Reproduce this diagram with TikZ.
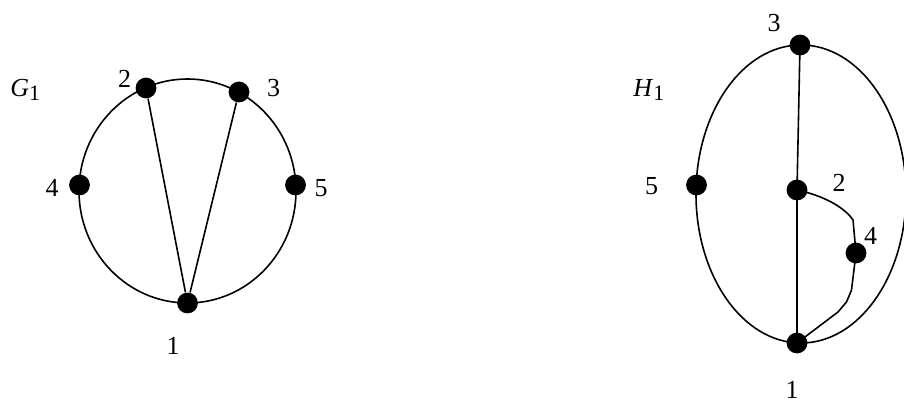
\documentclass[tikz,border=0pt]{standalone}
\usepackage{fontspec}
\setmainfont{Liberation Serif}
\begin{document}
\begin{tikzpicture}[x=0.5pt,y=-0.5pt,
  dot/.style={circle,fill=black,inner sep=0pt,minimum size=10.4pt},
  lbl/.style={anchor=base,inner sep=0pt,font=\fontsize{13}{15}\selectfont},
  edge/.style={line width=0.8pt}]
\useasboundingbox (0,0) rectangle (904,405);
\clip (0,0) rectangle (904,405);
% ---------- G1 ----------
\draw[edge] (187.5,191) ellipse [x radius=54.25pt, y radius=56pt];
\node[dot] (g1) at (187.5,303) {};
\node[dot] (g2) at (146,88) {};
\node[dot] (g3) at (239,92) {};
\node[dot] (g4) at (79.5,185) {};
\node[dot] (g5) at (295.5,185) {};
\draw[edge] (g2) -- (g1);
\draw[edge] (g3) -- (g1);
\node[lbl,anchor=base west] (gname) at (10,97) {\textit{G}\raisebox{-0.3ex}{\fontsize{11}{12}\selectfont 1}};
\node[lbl] (lg1) at (173,355) {1};
\node[lbl] (lg2) at (124.5,88) {2};
\node[lbl] (lg3) at (273.5,97) {3};
\node[lbl] (lg4) at (52,197) {4};
\node[lbl] (lg5) at (321,197) {5};
% ---------- H1 ----------
\draw[edge] (801,194) ellipse [x radius=52.5pt, y radius=74.5pt];
\node[dot] (h3) at (800,45) {};
\node[dot] (h2) at (797,190) {};
\node[dot] (h1) at (797,343) {};
\node[dot] (h5) at (696.5,185) {};
\node[dot] (h4) at (856,253) {};
\draw[edge] (h3.center) -- (h2.center) -- (h1.center);
\draw[edge] (h2.center) .. controls (825,196) and (845,208) .. (853,220) -- (h4.center)
  -- (851.5,290) -- (846.5,302) -- (838,312) -- (h1.center);
\node[lbl,anchor=base west] (hname) at (633,97) {\textit{H}\raisebox{-0.3ex}{\fontsize{11}{12}\selectfont 1}};
\node[lbl] (lh1) at (792,399) {1};
\node[lbl] (lh2) at (839,192) {2};
\node[lbl] (lh3) at (774,32) {3};
\node[lbl] (lh4) at (870.5,245) {4};
\node[lbl] (lh5) at (651.5,195) {5};
\end{tikzpicture}
\end{document}
